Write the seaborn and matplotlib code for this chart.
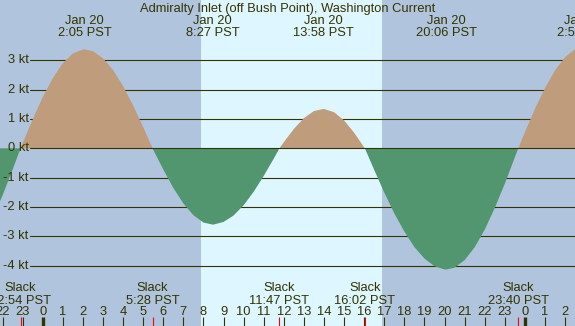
import numpy as np
import pandas as pd
import matplotlib
matplotlib.use('Agg')
import matplotlib.pyplot as plt
import seaborn as sns

# current speed (kt) read every half hour, hours relative to Jan 20 00:00 PST
hours = np.arange(-2.5, 27.01, 0.5)
speed = [-2.41, -1.61, -0.73, 0.17, 0.98, 1.74, 2.39, 2.90, 3.23, 3.37,
         3.31, 3.07, 2.67, 2.12, 1.46, 0.72, -0.05, -0.72, -1.35, -1.88,
         -2.28, -2.53, -2.60, -2.51, -2.29, -1.94, -1.48, -0.94, -0.35, 0.21,
         0.66, 1.03, 1.27, 1.34, 1.23, 0.95, 0.53, 0.03, -0.74, -1.51,
         -2.22, -2.84, -3.37, -3.76, -4.02, -4.13, -4.07, -3.81, -3.37, -2.77,
         -2.03, -1.20, -0.30, 0.55, 1.35, 2.06, 2.66, 3.11, 3.38, 3.45]

# max flood / max ebb events
peak_hours = [2.083, 8.45, 13.967, 20.1, 26.93]
peak_speed = [3.37, -2.60, 1.34, -4.13, 3.45]
peak_dates = ['Jan 20', 'Jan 20', 'Jan 20', 'Jan 20', 'Jan 21']
peak_times = ['2:05 PST', '8:27 PST', '13:58 PST', '20:06 PST', '2:56 PST']

# slack water events
slack_hours = [-1.1, 5.467, 11.783, 16.033, 23.667]
slack_times = ['22:54 PST', '5:28 PST', '11:47 PST', '16:02 PST', '23:40 PST']

sunrise, sunset = 7.88, 16.87
kt_levels = [3, 2, 1, 0, -1, -2, -3, -4]
hour_ticks = list(range(-2, 27))

df = pd.concat([
    pd.DataFrame({'hour': hours, 'kt': speed}),
    pd.DataFrame({'hour': peak_hours, 'kt': peak_speed}),
    pd.DataFrame({'hour': slack_hours, 'kt': [0.0] * len(slack_hours)}),
]).sort_values('hour').reset_index(drop=True)

sns.set_theme(style='white')
plt.rcParams['font.family'] = ['Liberation Sans', 'DejaVu Sans']

night = '#B0C4DE'
day = '#DEF6FF'
flood = '#BE9C7C'
ebb = '#52966F'
ink = '#333300'
fs = 9.3

fig = plt.figure(figsize=(5.75, 3.26), dpi=100)
ax = fig.add_axes([0, 0, 1, 1])
ax.set_xlim(-2.125, 26.49)
ax.set_ylim(-6.057, 5.055)
ax.axis('off')

ax.axvspan(-5, 30, color=night, lw=0, zorder=0)
ax.axvspan(sunrise, sunset, color=day, lw=0, zorder=0)

for lv in kt_levels:
    ax.axhline(lv, xmin=30 / 575, xmax=1, color=ink, lw=0.8,
               zorder=3 if lv == 0 else 1)
    ax.text(28.5 / 575, lv, f'{lv} kt', transform=ax.get_yaxis_transform(),
            ha='right', va='center', fontsize=fs, color=ink, zorder=4)

sns.lineplot(data=df, x='hour', y='kt', ax=ax, lw=0, legend=False)
ax.fill_between(df['hour'], df['kt'], 0, where=df['kt'] >= 0,
                interpolate=True, color=flood, lw=0, zorder=2)
ax.fill_between(df['hour'], df['kt'], 0, where=df['kt'] <= 0,
                interpolate=True, color=ebb, lw=0, zorder=2)

xt = ax.get_xaxis_transform()
fig.text(0.5, 1 - 12 / 326, 'Admiralty Inlet (off Bush Point), Washington Current',
         ha='center', va='baseline', fontsize=fs, color=ink)
for h, d, t in zip(peak_hours, peak_dates, peak_times):
    ax.text(h, 1 - 24 / 326, d, transform=xt, ha='center', va='baseline',
            fontsize=fs, color=ink, zorder=4)
    ax.text(h, 1 - 36 / 326, t, transform=xt, ha='center', va='baseline',
            fontsize=fs, color=ink, zorder=4)
for h, t in zip(slack_hours, slack_times):
    ax.text(h, 1 - 291.3 / 326, 'Slack', transform=xt, ha='center',
            va='baseline', fontsize=fs, color=ink, zorder=4)
    ax.text(h, 1 - 304 / 326, t, transform=xt, ha='center', va='baseline',
            fontsize=fs, color=ink, zorder=4)

for h in hour_ticks:
    ax.text(h, 1 - 314.7 / 326, str(h % 24), transform=xt, ha='center',
            va='baseline', fontsize=fs, color=ink, zorder=4)
    ax.vlines(h, 0, 8.7 / 326, transform=xt, color=ink,
              lw=2.4 if h % 24 == 0 else 0.8, zorder=4)
ax.vlines(slack_hours, 0, 8.7 / 326, transform=xt, color='red', lw=0.8, zorder=4)

fig.savefig('out.png', dpi=100)
